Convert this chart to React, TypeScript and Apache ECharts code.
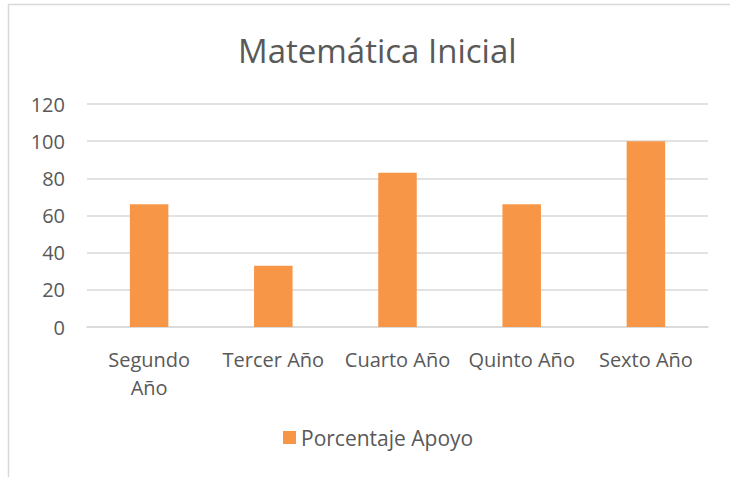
import React, { useEffect, useRef } from "react";
import * as echarts from "echarts";

const categories = ["Segundo\nAño", "Tercer Año", "Cuarto Año", "Quinto Año", "Sexto Año"];
const seriesName = "Porcentaje Apoyo";
const values = [66, 33, 83, 66, 100];
const yMin = 0;
const yMax = 120;
const yInterval = 20;

const FONT = "'Open Sans', 'Noto Sans', sans-serif";
const TEXT = "#595959";

export default function App() {
  const ref = useRef<HTMLDivElement>(null);
  useEffect(() => {
    if (!ref.current) return;
    const chart = echarts.init(ref.current, null, { renderer: "svg" });
    chart.setOption({
      animation: false,
      backgroundColor: "#ffffff",
      textStyle: { fontFamily: FONT },
      title: {
        text: "Matemática Inicial",
        left: 233,
        top: 29,
        textStyle: { fontFamily: FONT, fontSize: 33, fontWeight: "normal", color: TEXT },
      },
      graphic: [
        {
          type: "rect",
          shape: { x: 8.5, y: 4.5, width: 740, height: 500 },
          style: { fill: "none", stroke: "#d9d9d9", lineWidth: 1.5 },
          silent: true,
        },
      ],
      legend: {
        data: [seriesName],
        bottom: 24,
        left: 278,
        itemWidth: 13,
        itemHeight: 13,
        itemGap: 8,
        icon: "rect",
        textStyle: { fontFamily: FONT, fontSize: 21, color: TEXT },
      },
      grid: { left: 87, right: 22, top: 104, bottom: 150, containLabel: false },
      xAxis: {
        type: "category",
        data: categories,
        axisLine: { lineStyle: { color: "#d9d9d9", width: 1.5 } },
        axisTick: { show: false },
        axisLabel: {
          interval: 0,
          margin: 18,
          fontFamily: FONT,
          fontSize: 20,
          lineHeight: 28,
          color: TEXT,
        },
      },
      yAxis: {
        type: "value",
        min: yMin,
        max: yMax,
        interval: yInterval,
        axisLine: { show: false },
        axisTick: { show: false },
        splitLine: { lineStyle: { color: "#d9d9d9", width: 1.5 } },
        axisLabel: { margin: 22, fontFamily: FONT, fontSize: 20, color: TEXT },
      },
      series: [
        {
          name: seriesName,
          type: "bar",
          data: values,
          barWidth: "31%",
          itemStyle: { color: "#F79646" },
        },
      ],
    });
    return () => chart.dispose();
  }, []);
  return (
    <div
      ref={ref}
      style={{ position: "fixed", left: 0, top: 0, width: 730, height: 477 }}
    />
  );
}
